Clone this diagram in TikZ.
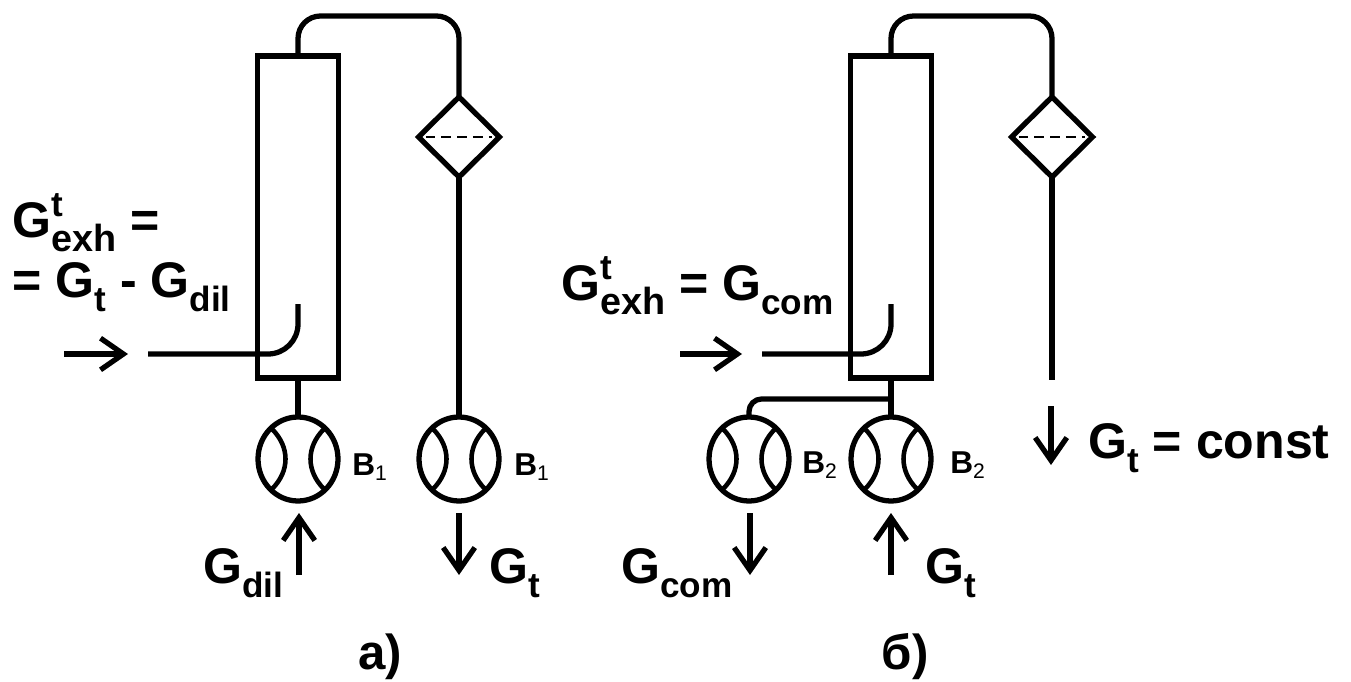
\documentclass[tikz,border=0pt]{standalone}
\usepackage{fontspec}
\setmainfont{Liberation Sans}
\usetikzlibrary{arrows.meta,shapes.geometric}
\tikzset{
    pipe/.style={line width=3pt,line join=round},
    flow/.style={line width=3pt,-{Straight Barb[length=13pt,width=18pt,line width=3pt]}},
    column/.style={draw,line width=3pt,minimum width=1.62cm,minimum height=6.44cm,inner sep=0pt,outer sep=0pt},
    filter/.style={draw,diamond,line width=3pt,minimum width=1.62cm,minimum height=1.6cm,inner sep=0pt,outer sep=0pt},
    blower/.style={draw,ellipse,line width=3pt,minimum width=1.6cm,minimum height=1.68cm,inner sep=0pt,outer sep=0pt},
    lbl/.style={anchor=base west,inner sep=0pt,font=\fontsize{28.5}{30}\selectfont\bfseries},
    tag/.style={anchor=base west,inner sep=0pt,font=\fontsize{18}{20}\selectfont\bfseries},
    panel/.style={anchor=base,inner sep=0pt,font=\fontsize{28}{30}\selectfont\bfseries}
}
\newcommand{\lsub}[1]{\raisebox{-0.28em}{\fontsize{20}{22}\selectfont #1}}
\newcommand{\lexh}{\rlap{\raisebox{0.4em}{\fontsize{20}{22}\selectfont t}}\raisebox{-0.28em}{\fontsize{21.5}{22}\selectfont exh}}
\newcommand{\tsub}[1]{\raisebox{-0.18em}{\fontsize{12}{14}\selectfont\mdseries #1}}
\begin{document}
\begin{tikzpicture}[x=0.02cm,y=-0.02cm]
    \useasboundingbox (0,0) rectangle (1351,682);
    %% Panel a
    \node[column] (colA) at (298,217) {};
    \node[filter] (filtA) at (459,137) {};
    \node[blower] (blowA) at (298,459) {};
    \node[blower] (blowB) at (459,459) {};
    \coordinate (topA) at (459,16);
    \coordinate (inA) at (148,354);
    \coordinate (tipA) at (298,304);
    \draw[pipe,rounded corners=0.45cm] (colA.north) -- (colA.north |- topA) -- (topA) -- (filtA.north);
    \draw[pipe] (filtA.south) -- (blowB.north);
    \draw[pipe] (colA.south) -- (blowA.north);
    \draw[pipe,rounded corners=0.6cm] (inA) -- (tipA |- inA) -- (tipA);
    \draw[flow] (64,354) -- (128,354);
    \draw[flow] (299,575) -- (299,513);
    \draw[flow] (459,513) -- (459,575);
    %% Panel b
    \node[column] (colB) at (891,217) {};
    \node[filter] (filtB) at (1052,137) {};
    \node[blower] (blowC) at (749,459) {};
    \node[blower] (blowD) at (891,459) {};
    \coordinate (topB) at (1052,16);
    \coordinate (inB) at (762,354);
    \coordinate (tipB) at (891,304);
    \coordinate (endB) at (1052,380);
    \coordinate (teeB) at (891,399);
    \draw[pipe,rounded corners=0.45cm] (colB.north) -- (colB.north |- topB) -- (topB) -- (filtB.north);
    \draw[pipe] (filtB.south) -- (endB);
    \draw[pipe] (colB.south) -- (blowD.north);
    \draw[pipe,rounded corners=0.25cm] (teeB) -- (blowC.north |- teeB) -- (blowC.north);
    \draw[pipe,rounded corners=0.6cm] (inB) -- (tipB |- inB) -- (tipB);
    \draw[flow] (680,354) -- (742,354);
    \draw[flow] (750,513) -- (750,575);
    \draw[flow] (891,575) -- (891,513);
    \draw[flow] (1051,406) -- (1051,465);
    %% Filter screens
    \foreach \f in {filtA,filtB}{
        \draw[line width=1pt,dash pattern=on 5.6pt off 3.4pt,shorten >=4pt,shorten <=4pt] (\f.west) -- (\f.east);
    }
    %% Blower seams
    \foreach \b in {blowA,blowB,blowC,blowD}{
        \draw[pipe,line width=2.6pt] (\b.center) ++(-26,-30) .. controls +(18,18) and +(18,-18) .. +(0,60);
        \draw[pipe,line width=2.6pt] (\b.center) ++(26,-30) .. controls +(-18,18) and +(-18,-18) .. +(0,60);
    }
    %% Labels
    \node[lbl] (exhA) at (12,237) {G\lexh\ =};
    \node[lbl] (sumA) at (12,297) {= G\lsub{t} - G\lsub{dil}};
    \node[lbl] (dilA) at (203,583) {G\lsub{dil}};
    \node[lbl] (outA) at (489,583) {G\lsub{t}};
    \node[tag] (tagA) at (352,475) {B\tsub{1}};
    \node[tag] (tagB) at (514,475) {B\tsub{1}};
    \node[panel] (capA) at (380,669) {a)};
    \node[lbl] (exhB) at (561,300) {G\lexh\ = G\lsub{com}};
    \node[lbl] (comB) at (621,583) {G\lsub{com}};
    \node[lbl] (outB) at (925,583) {G\lsub{t}};
    \node[lbl] (constB) at (1088,458) {G\lsub{t} = const};
    \node[tag] (tagC) at (802,473) {B\tsub{2}};
    \node[tag] (tagD) at (950,473) {B\tsub{2}};
    \node[panel] (capB) at (905,669) {б)};
\end{tikzpicture}
\end{document}
